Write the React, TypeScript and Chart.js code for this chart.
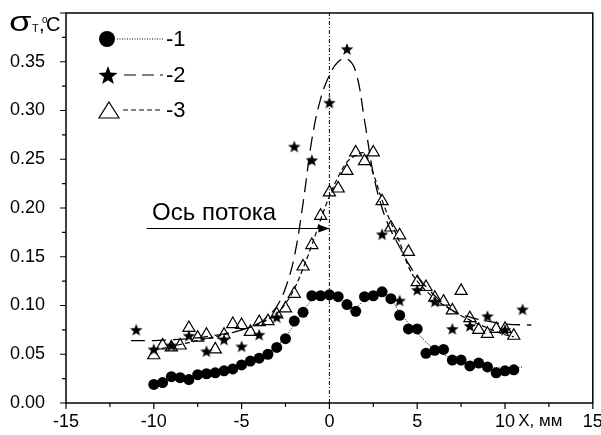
import React, { useEffect, useRef } from "react";
import { Chart, registerables } from "chart.js";

Chart.register(...registerables);

// ---------- data ----------
const X_HALF = [-10, -9.5, -9, -8.5, -8, -7.5, -7, -6.5, -6, -5.5, -5, -4.5, -4, -3.5, -3, -2.5, -2, -1.5, -1, -0.5, 0, 0.5, 1, 1.5, 2, 2.5, 3, 3.5, 4, 4.5, 5, 5.5, 6, 6.5, 7, 7.5, 8, 8.5, 9, 9.5, 10, 10.5];
const Y_S1 = [0.019, 0.021, 0.027, 0.026, 0.024, 0.029, 0.030, 0.031, 0.033, 0.035, 0.039, 0.043, 0.046, 0.050, 0.057, 0.066, 0.084, 0.093, 0.110, 0.110, 0.111, 0.109, 0.101, 0.094, 0.109, 0.110, 0.114, 0.107, 0.090, 0.076, 0.076, 0.051, 0.054, 0.055, 0.044, 0.044, 0.038, 0.041, 0.037, 0.031, 0.033, 0.034];
const Y_S3 = [0.049, 0.059, 0.057, 0.059, 0.077, 0.067, 0.070, 0.055, 0.070, 0.081, 0.080, 0.073, 0.083, 0.084, 0.091, 0.097, 0.112, 0.140, 0.162, 0.192, 0.216, 0.220, 0.238, 0.257, 0.248, 0.257, 0.207, 0.180, 0.172, 0.155, 0.124, 0.119, 0.108, 0.104, 0.095, 0.115, 0.087, 0.075, 0.071, 0.076, 0.076, 0.069];
const X_S2 = [-11, -10, -9, -8, -7, -6, -5, -4, -3, -2, -1, 0, 1, 3, 4, 5, 6, 7, 8, 9, 10, 11];
const Y_S2 = [0.075, 0.055, 0.059, 0.069, 0.053, 0.065, 0.058, 0.070, 0.088, 0.263, 0.249, 0.308, 0.363, 0.173, 0.105, 0.116, 0.104, 0.076, 0.079, 0.089, 0.075, 0.096];

const FIT1_X = [-10, -9, -8, -7, -6, -5, -4, -3, -2, -1, 0, 0.5, 1, 1.5, 2, 3, 3.5, 4, 5, 6, 7, 8, 9, 10, 11];
const FIT1_Y = [0.021, 0.025, 0.027, 0.030, 0.033, 0.039, 0.046, 0.058, 0.080, 0.105, 0.111, 0.108, 0.100, 0.098, 0.106, 0.112, 0.107, 0.093, 0.072, 0.055, 0.046, 0.040, 0.037, 0.036, 0.037];
const FIT2_X = [-11.3, -10, -9, -8, -7, -6, -5, -4, -3.5, -3, -2.5, -2, -1.5, -1, -0.5, 0, 0.5, 1, 1.5, 2, 2.5, 3, 3.5, 4, 4.5, 5, 6, 7, 8, 9, 10, 11.5];
const FIT2_Y = [0.064, 0.064, 0.065, 0.066, 0.068, 0.071, 0.075, 0.082, 0.089, 0.099, 0.118, 0.150, 0.205, 0.270, 0.312, 0.336, 0.350, 0.353, 0.340, 0.290, 0.235, 0.200, 0.177, 0.160, 0.143, 0.130, 0.110, 0.095, 0.088, 0.084, 0.081, 0.080];
const FIT3_X = [-10, -9, -8, -7, -6, -5, -4, -3, -2.5, -2, -1.5, -1, -0.5, 0, 0.5, 1, 1.5, 2, 2.5, 3, 3.5, 4, 4.5, 5, 6, 7, 8, 9, 10, 10.5];
const FIT3_Y = [0.054, 0.058, 0.062, 0.066, 0.070, 0.075, 0.081, 0.092, 0.102, 0.117, 0.138, 0.162, 0.188, 0.212, 0.232, 0.247, 0.254, 0.256, 0.235, 0.208, 0.185, 0.165, 0.140, 0.125, 0.107, 0.095, 0.085, 0.077, 0.070, 0.068];

const AXIS_X = [0, 0];
const AXIS_Y = [0, 0.4];
const ARROW_X = [-10.4, 0];
const ARROW_Y = [0.179, 0.179];

const LEGEND_LABELS = ["-1", "-2", "-3"];
const X_TICKS = [-15, -10, -5, 0, 5, 10, 15];
const Y_TICKS = [0, 0.05, 0.1, 0.15, 0.2, 0.25, 0.3, 0.35];
const ANNOTATION = "Ось потока";
const X_TITLE = "X, мм";

const FONT = "'Liberation Sans', Arial, sans-serif";

const pts = (xs: number[], ys: number[]) => xs.map((x, i) => ({ x, y: ys[i] }));

function starPath(ctx: CanvasRenderingContext2D, cx: number, cy: number, r: number) {
  const ri = r * 0.42;
  ctx.beginPath();
  for (let i = 0; i < 10; i++) {
    const rr = i % 2 === 0 ? r : ri;
    const a = -Math.PI / 2 + (i * Math.PI) / 5;
    const px = cx + rr * Math.cos(a);
    const py = cy + rr * Math.sin(a);
    if (i === 0) ctx.moveTo(px, py);
    else ctx.lineTo(px, py);
  }
  ctx.closePath();
}

function makeStar(r: number) {
  const c = document.createElement("canvas");
  const s = Math.ceil(r * 2 + 2);
  c.width = s;
  c.height = s;
  const ctx = c.getContext("2d")!;
  ctx.fillStyle = "#000";
  starPath(ctx, s / 2, s / 2 + r * 0.08, r);
  ctx.fill();
  return c;
}

const decor = {
  id: "decor",
  afterDatasetsDraw(chart: any) {
    const { ctx, chartArea: a, scales } = chart;
    const xs = scales.x;
    const ys = scales.y;
    ctx.save();
    // frame
    ctx.strokeStyle = "#000";
    ctx.lineWidth = 1.5;
    ctx.strokeRect(a.left, a.top, a.right - a.left, a.bottom - a.top);
    // ticks
    ctx.lineWidth = 1.2;
    ctx.beginPath();
    for (let v = -15; v <= 15.001; v += 2.5) {
      const px = xs.getPixelForValue(v);
      const major = Math.abs(v % 5) < 1e-6;
      ctx.moveTo(px, a.bottom);
      ctx.lineTo(px, a.bottom + (major ? 6 : 4));
    }
    for (let v = 0; v <= 0.4001; v += 0.025) {
      const py = ys.getPixelForValue(v);
      const major = Math.abs(Math.round(v * 1000) % 50) < 1;
      ctx.moveTo(a.left, py);
      ctx.lineTo(a.left - (major ? 6 : 4), py);
    }
    ctx.stroke();

    // arrow head
    const ax = xs.getPixelForValue(ARROW_X[1]);
    const ay = ys.getPixelForValue(ARROW_Y[1]);
    ctx.fillStyle = "#000";
    ctx.beginPath();
    ctx.moveTo(ax, ay);
    ctx.lineTo(ax - 11, ay - 4);
    ctx.lineTo(ax - 11, ay + 4);
    ctx.closePath();
    ctx.fill();

    // annotation text
    ctx.font = `24px ${FONT}`;
    ctx.textBaseline = "alphabetic";
    ctx.textAlign = "left";
    ctx.fillText(ANNOTATION, xs.getPixelForValue(-10.1), ay - 8);

    // x title
    ctx.font = `17px ${FONT}`;
    ctx.fillText(X_TITLE, xs.getPixelForValue(10.75), a.bottom + 23);

    // y title sigma_T,°C
    ctx.save();
    ctx.translate(9, 31);
    ctx.scale(1.3, 1);
    ctx.font = `28px ${FONT}`;
    ctx.fillText("σ", 0, 0);
    ctx.restore();
    ctx.font = `11px ${FONT}`;
    ctx.fillText("T", 32, 32);
    ctx.font = `20px ${FONT}`;
    ctx.fillText(",", 39, 31);
    ctx.font = `10px ${FONT}`;
    ctx.fillText("o", 42, 23);
    ctx.font = `20px ${FONT}`;
    ctx.fillText("C", 46, 31);

    // legend
    const lx = 107;
    const rows = [39, 75, 110];
    ctx.lineWidth = 1;
    ctx.setLineDash([1, 1.5]);
    ctx.beginPath();
    ctx.moveTo(117, rows[0]);
    ctx.lineTo(164, rows[0]);
    ctx.stroke();
    ctx.setLineDash([12, 6]);
    ctx.lineWidth = 1.2;
    ctx.beginPath();
    ctx.moveTo(124, rows[1]);
    ctx.lineTo(163, rows[1]);
    ctx.stroke();
    ctx.setLineDash([5, 3]);
    ctx.beginPath();
    ctx.moveTo(123, rows[2]);
    ctx.lineTo(163, rows[2]);
    ctx.stroke();
    ctx.setLineDash([]);
    ctx.beginPath();
    ctx.arc(lx, rows[0], 8, 0, Math.PI * 2);
    ctx.fill();
    starPath(ctx, lx + 1, rows[1] + 1, 10);
    ctx.fill();
    ctx.lineWidth = 1.2;
    ctx.beginPath();
    ctx.moveTo(lx + 2, rows[2] - 8);
    ctx.lineTo(lx + 12, rows[2] + 8);
    ctx.lineTo(lx - 8, rows[2] + 8);
    ctx.closePath();
    ctx.stroke();
    ctx.font = `22px ${FONT}`;
    ctx.textBaseline = "middle";
    LEGEND_LABELS.forEach((t, i) => ctx.fillText(t, 166, rows[i] + 1));
    ctx.restore();
  },
};

export default function App() {
  const ref = useRef<HTMLCanvasElement>(null);
  useEffect(() => {
    const star = makeStar(6.6);
    const chart = new Chart(ref.current!, {
      type: "scatter",
      data: {
        datasets: [
          {
            data: pts(AXIS_X, AXIS_Y),
            showLine: true,
            borderColor: "#000",
            borderWidth: 1,
            borderDash: [4, 2, 1, 2],
            pointRadius: 0,
            order: 10,
          },
          {
            data: pts(ARROW_X, ARROW_Y),
            showLine: true,
            borderColor: "#000",
            borderWidth: 1.2,
            pointRadius: 0,
            order: 10,
          },
          {
            data: pts(FIT1_X, FIT1_Y),
            showLine: true,
            borderColor: "#000",
            borderWidth: 1,
            borderDash: [1, 1.5],
            tension: 0.4,
            pointRadius: 0,
            order: 9,
          },
          {
            data: pts(FIT2_X, FIT2_Y),
            showLine: true,
            borderColor: "#000",
            borderWidth: 1.3,
            borderDash: [14, 7],
            tension: 0.4,
            pointRadius: 0,
            order: 9,
          },
          {
            data: pts(FIT3_X, FIT3_Y),
            showLine: true,
            borderColor: "#000",
            borderWidth: 1.2,
            borderDash: [5, 3],
            tension: 0.4,
            pointRadius: 0,
            order: 9,
          },
          {
            data: pts(X_HALF, Y_S1),
            pointStyle: "circle",
            pointRadius: 5.5,
            backgroundColor: "#000",
            borderColor: "#000",
            borderWidth: 0,
            order: 1,
          },
          {
            data: pts(X_S2, Y_S2),
            pointStyle: star as any,
            pointRadius: 7,
            order: 1,
          },
          {
            data: pts(X_HALF, Y_S3),
            pointStyle: "triangle",
            pointRadius: 7,
            backgroundColor: "rgba(0,0,0,0)",
            borderColor: "#000",
            borderWidth: 1.2,
            order: 1,
          },
        ],
      },
      options: {
        animation: false,
        responsive: true,
        maintainAspectRatio: false,
        events: [],
        layout: { padding: { top: 13, right: 8, left: 0, bottom: 0 } },
        plugins: { legend: { display: false }, tooltip: { enabled: false } },
        scales: {
          x: {
            type: "linear",
            min: -15,
            max: 15,
            grid: { display: false },
            border: { display: false },
            afterBuildTicks: (s: any) => {
              s.ticks = X_TICKS.map((v) => ({ value: v }));
            },
            afterFit: (s: any) => {
              s.height = 32;
              s.paddingLeft = 0;
              s.paddingRight = 0;
            },
            ticks: {
              autoSkip: false,
              maxRotation: 0,
              padding: 0,
              color: "#000",
              font: { family: FONT, size: 18 },
              callback: (v: any) => String(v),
            },
          },
          y: {
            type: "linear",
            min: 0,
            max: 0.4,
            grid: { display: false },
            border: { display: false },
            afterBuildTicks: (s: any) => {
              s.ticks = Y_TICKS.map((v) => ({ value: v }));
            },
            afterFit: (s: any) => {
              s.width = 66;
              s.paddingTop = 0;
              s.paddingBottom = 0;
            },
            ticks: {
              autoSkip: false,
              padding: 13,
              color: "#000",
              font: { family: FONT, size: 18 },
              callback: (v: any) => Number(v).toFixed(2),
            },
          },
        },
      },
      plugins: [decor],
    });
    return () => chart.destroy();
  }, []);
  return (
    <div style={{ position: "fixed", left: 0, top: 0, width: 601, height: 435, background: "#fff" }}>
      <canvas ref={ref} />
    </div>
  );
}
